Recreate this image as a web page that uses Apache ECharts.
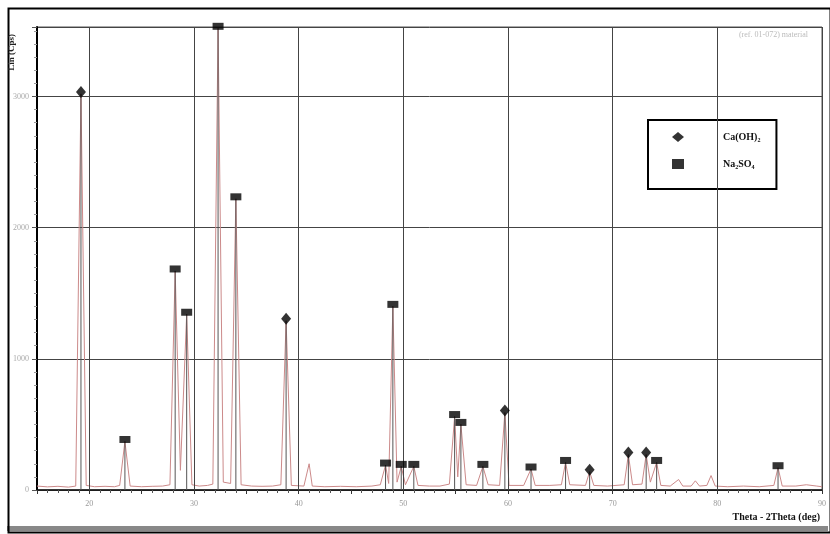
<!DOCTYPE html>
<html>
<head>
<meta charset="utf-8">
<script src="https://cdn.jsdelivr.net/npm/echarts@6/dist/echarts.min.js"></script>
<style>
  html, body { margin: 0; padding: 0; background: #fff; }
  #chart { width: 830px; height: 534px; }
</style>
</head>
<body>
<div id="chart"></div>
<script>
// 2theta (deg), intensity (cps)
var profile = [
  [15, 30], [16, 24], [17, 28], [18, 22], [18.7, 30], [19.2, 3020], [19.7, 35],
  [20.5, 25], [21.5, 28], [22.4, 25], [22.9, 35], [23.4, 370], [23.9, 30],
  [25, 25], [26, 28], [27, 30], [27.7, 40], [28.2, 1670], [28.7, 150], [29.3, 1340],
  [29.8, 40], [30.5, 30], [31.3, 35], [31.8, 45], [32.3, 3520], [32.8, 60],
  [33.5, 50], [34.0, 2220], [34.5, 40], [35.5, 30], [36.5, 28], [37.5, 30],
  [38.3, 40], [38.8, 1290], [39.3, 35], [40.5, 30], [41.0, 200], [41.3, 30],
  [42.5, 25], [44, 28], [45.5, 25], [47, 30], [47.8, 40], [48.3, 190], [48.6, 50],
  [49.0, 1400], [49.4, 60], [49.8, 180], [50.2, 40], [51.0, 180], [51.4, 35],
  [52.5, 30], [53.5, 30], [54.4, 45], [54.9, 560], [55.2, 100], [55.5, 500],
  [56.0, 40], [57.0, 35], [57.6, 180], [58.1, 40], [59.2, 35], [59.7, 590],
  [60.1, 35], [61.5, 35], [62.2, 160], [62.6, 35], [64, 35], [65.1, 40],
  [65.5, 210], [65.9, 40], [67.4, 35], [67.8, 140], [68.2, 35], [69.5, 30],
  [71.1, 40], [71.5, 270], [71.9, 40], [72.8, 45], [73.2, 270], [73.6, 60],
  [74.2, 210], [74.6, 35], [75.5, 30], [76.3, 80], [76.7, 30], [77.5, 30],
  [77.9, 70], [78.3, 30], [79.0, 35], [79.4, 110], [79.8, 30], [81, 25],
  [82.5, 30], [84, 25], [85.4, 35], [85.8, 170], [86.2, 30], [87.5, 30],
  [88.5, 40], [89.5, 30], [90, 25]
];

var caOH2 = [[19.2, 3020], [38.8, 1290], [59.7, 590], [67.8, 140], [71.5, 270], [73.2, 270]];
var na2SO4 = [
  [23.4, 370], [28.2, 1670], [29.3, 1340], [32.3, 3520], [34.0, 2220], [48.3, 190],
  [49.0, 1400], [49.8, 180], [51.0, 180], [54.9, 560], [55.5, 500], [57.6, 180],
  [62.2, 160], [65.5, 210], [74.2, 210], [85.8, 170]
];

var gridX = [20, 30, 40, 50, 60, 70, 80, 90];
var xMin = 15, xMax = 90;
var yMax = 3530;

var chart = echarts.init(document.getElementById('chart'));

var serif = '"Liberation Serif", "DejaVu Serif", serif';

function sticks(params, api) {
  var top = api.coord([api.value(0), api.value(1)]);
  var bot = api.coord([api.value(0), 0]);
  return {
    type: 'line',
    shape: { x1: top[0], y1: top[1], x2: bot[0], y2: bot[1] },
    style: { stroke: '#555', lineWidth: 1 }
  };
}

var option = {
  backgroundColor: '#fff',
  animation: false,
  grid: {
    left: 37, right: 8, top: 27, bottom: 44,
    show: true, borderColor: '#555', borderWidth: 1
  },
  legend: {
    orient: 'vertical',
    left: 648, top: 120,
    data: ['Ca(OH)₂', 'Na₂SO₄'],
    backgroundColor: '#fff',
    borderColor: '#000',
    borderWidth: 2,
    borderRadius: 0,
    padding: [12, 16, 20, 24],
    itemGap: 17,
    itemWidth: 12,
    itemHeight: 10,
    textStyle: {
      color: '#111', fontFamily: serif, fontWeight: 'bold', fontSize: 10,
      padding: [0, 0, 0, 34]
    }
  },
  xAxis: {
    type: 'value',
    min: xMin, max: xMax, interval: 5,
    axisLine: { show: true, lineStyle: { color: '#111', width: 1.5 } },
    axisTick: { show: true, inside: false, length: 4, lineStyle: { color: '#333' } },
    minorTick: { show: true, splitNumber: 5, length: 3, lineStyle: { color: '#555' } },
    splitLine: { show: false },
    axisLabel: {
      color: '#999', fontSize: 8, fontFamily: serif, margin: 10,
      formatter: function (v) { return v % 10 === 0 && v > xMin ? String(v) : ''; }
    }
  },
  yAxis: {
    type: 'value',
    min: 0, max: yMax, interval: 1000,
    axisLine: { show: true, lineStyle: { color: '#000', width: 2 } },
    axisTick: { show: true, length: 5, lineStyle: { color: '#555' } },
    minorTick: { show: true, splitNumber: 10, length: 3, lineStyle: { color: '#999' } },
    splitLine: { show: true, lineStyle: { color: '#444', width: 1 } },
    axisLabel: {
      color: '#aaa', fontSize: 8, fontFamily: serif, margin: 8,
      formatter: function (v) { return v % 1000 === 0 ? String(v) : ''; }
    }
  },
  series: [
    {
      type: 'line',
      name: 'scan',
      data: profile,
      symbol: 'none',
      lineStyle: { color: '#cc8a8a', width: 1 },
      z: 2,
      markLine: {
        silent: true,
        symbol: 'none',
        label: { show: false },
        lineStyle: { color: '#444', width: 1, type: 'solid' },
        data: gridX.map(function (v) { return { xAxis: v }; })
      }
    },
    {
      type: 'custom',
      name: 'sticksA',
      renderItem: sticks,
      data: caOH2,
      z: 3
    },
    {
      type: 'custom',
      name: 'sticksB',
      renderItem: sticks,
      data: na2SO4,
      z: 3
    },
    {
      type: 'scatter',
      name: 'Ca(OH)₂',
      data: caOH2,
      symbol: 'diamond',
      symbolSize: [10, 12],
      symbolOffset: [0, -2],
      itemStyle: { color: '#000' },
      z: 5
    },
    {
      type: 'scatter',
      name: 'Na₂SO₄',
      data: na2SO4,
      symbol: 'rect',
      symbolSize: [11, 7],
      symbolOffset: [0, -2],
      itemStyle: { color: '#000' },
      z: 5
    }
  ],
  graphic: [
    {
      type: 'rect', left: 6, top: 6, z: 100, silent: true,
      shape: { width: 822, height: 524 },
      style: { fill: 'none', stroke: '#000', lineWidth: 2 }
    },
    {
      type: 'rect', left: 7, top: 526, z: 99, silent: true,
      shape: { width: 821, height: 5 },
      style: { fill: '#888' }
    },
    {
      type: 'text', left: 7, top: 34, rotation: Math.PI / 2, z: 100,
      style: { text: 'Lin (Cps)', font: 'bold 9px ' + serif, fill: '#222' }
    },
    {
      type: 'text', right: 10, top: 512, z: 100,
      style: { text: 'Theta - 2Theta (deg)', font: 'bold 10px ' + serif, fill: '#111' }
    },
    {
      type: 'text', right: 22, top: 31, z: 100,
      style: { text: '(ref. 01-072) material', font: '8px ' + serif, fill: '#bbb' }
    }
  ]
};

chart.setOption(option);
</script>
</body>
</html>
